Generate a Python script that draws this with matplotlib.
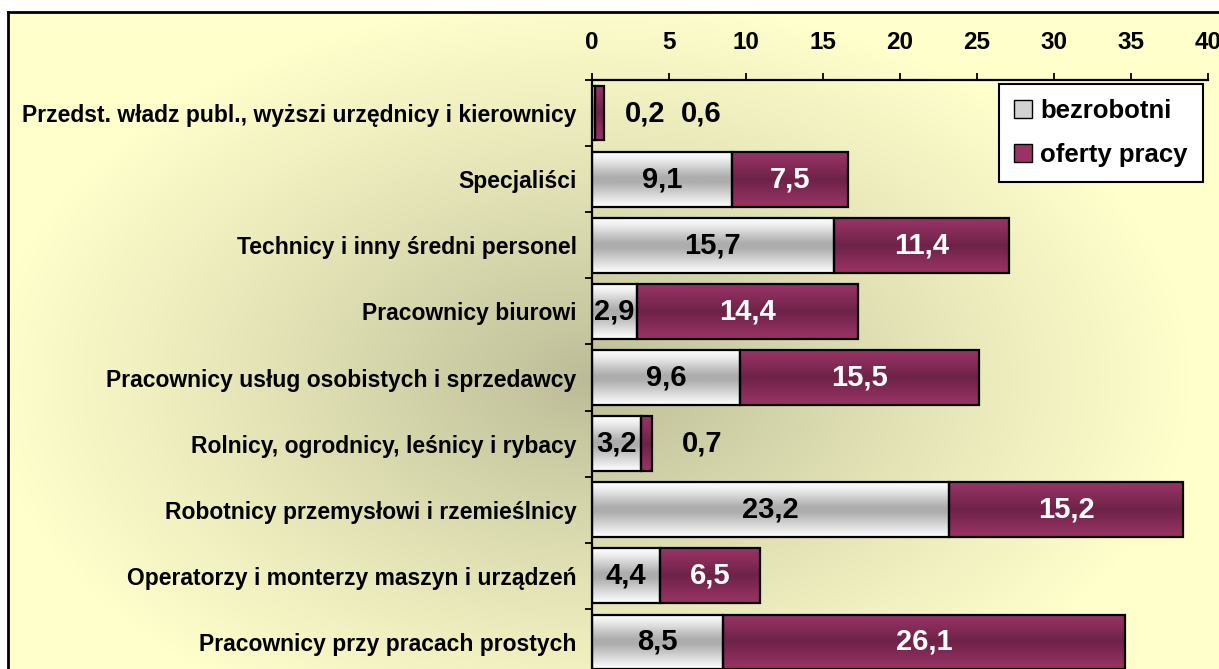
import numpy as np
from matplotlib import pyplot as plt
from matplotlib.colors import LinearSegmentedColormap, to_rgb
from matplotlib.patches import Patch, Rectangle

plt.rcParams["font.family"] = ["Liberation Sans", "DejaVu Sans"]
plt.rcParams["font.weight"] = "bold"

categories = [
    "Przedst. władz publ., wyższi urzędnicy i kierownicy",
    "Specjaliści",
    "Technicy i inny średni personel",
    "Pracownicy biurowi",
    "Pracownicy usług osobistych i sprzedawcy",
    "Rolnicy, ogrodnicy, leśnicy i rybacy",
    "Robotnicy przemysłowi i rzemieślnicy",
    "Operatorzy i monterzy maszyn i urządzeń",
    "Pracownicy przy pracach prostych",
]
bezrobotni = [0.2, 9.1, 15.7, 2.9, 9.6, 3.2, 23.2, 4.4, 8.5]
oferty = [0.6, 7.5, 11.4, 14.4, 15.5, 0.7, 15.2, 6.5, 26.1]
series_names = ["bezrobotni", "oferty pracy"]
xticks = list(range(0, 41, 5))

W, H = 1219, 669
fig = plt.figure(figsize=(W / 100, H / 100), dpi=100)

# background: white margin, black frame, khaki radial gradient inside
bg = fig.add_axes([0, 0, 1, 1])
bg.set_axis_off()
yy, xx = np.mgrid[0:H, 0:W]
d = np.sqrt(((xx - 590) / 600) ** 2 + ((yy - 380) / 380) ** 2)
t = np.clip(d, 0, 1) ** 0.85
c0 = np.array(to_rgb("#BABA96"))
c1 = np.array(to_rgb("#FFFFCC"))
img = c0 * (1 - t[..., None]) + c1 * t[..., None]
img[:12, :] = 1.0
img[:, :8] = 1.0
bg.imshow(img, extent=(0, W, H, 0), aspect="auto")
bg.plot([8, 8], [H, 12], color="black", lw=2)
bg.plot([8, W], [12, 12], color="black", lw=2)
bg.set_xlim(0, W)
bg.set_ylim(H, 0)

ax = fig.add_axes([592 / W, 1 - 675 / H, 616 / W, 595 / H])
ax.patch.set_alpha(0)

grey_cmap = LinearSegmentedColormap.from_list(
    "g", [(0, "#FCFCFC"), (0.1, "#F2F2F2"), (0.45, "#ADADAD"), (0.55, "#ADADAD"), (1, "#FFFFFF")])
purple_cmap = LinearSegmentedColormap.from_list(
    "p", [(0, "#9A3466"), (0.5, "#6E2248"), (1, "#9A3466")])
grad = np.linspace(0, 1, 64).reshape(-1, 1)
h = 0.83


def grad_bar(left, y, width, cmap):
    ax.imshow(grad, cmap=cmap, aspect="auto", interpolation="bilinear",
              extent=(left, left + width, y + h / 2, y - h / 2), zorder=2)
    ax.add_patch(Rectangle((left, y - h / 2), width, h, fill=False,
                           edgecolor="black", lw=1.6, zorder=3))


for i in range(len(categories)):
    b, o = bezrobotni[i], oferty[i]
    grad_bar(0, i, b, grey_cmap)
    grad_bar(b, i, o, purple_cmap)
    last_px = None
    for val, left, col in [(b, 0, "black"), (o, b, "white")]:
        txt = f"{val:.1f}".replace(".", ",")
        if val >= 2:
            ax.text(left + val / 2, i, txt, ha="center", va="center",
                    fontsize=21, fontweight="bold", color=col, zorder=4)
        else:
            end_px = (left + val) * 616 / 40
            pos = end_px + 50
            if last_px is not None:
                pos = max(pos, last_px + 56)
            last_px = pos
            ax.text(pos * 40 / 616, i, txt, ha="center", va="center",
                    fontsize=21, fontweight="bold", color="black", zorder=4)

ax.set_xlim(0, 40)
ax.set_ylim(len(categories) - 0.5, -0.5)
ax.xaxis.tick_top()
ax.set_xticks(xticks)
ax.set_xticklabels([str(v) for v in xticks], fontsize=17.5, fontweight="bold")
ax.tick_params(axis="x", direction="out", length=5, width=1.3, pad=14)
ax.set_yticks(range(len(categories)))
ax.set_yticklabels(categories, fontsize=16.5, fontweight="bold")
ax.set_yticks(np.arange(-0.5, len(categories), 1), minor=True)
ax.tick_params(axis="y", which="major", length=0, pad=11)
ax.tick_params(axis="y", which="minor", direction="out", length=5, width=1.3)
for s in ["right", "bottom"]:
    ax.spines[s].set_visible(False)
for s in ["left", "top"]:
    ax.spines[s].set_linewidth(1.6)

handles = [Patch(facecolor="#D2D2D2", edgecolor="black"),
           Patch(facecolor="#993366", edgecolor="black")]
leg = fig.legend(handles, series_names, loc="upper left",
                 bbox_to_anchor=(999 / W, 1 - 84 / H), borderaxespad=0,
                 fancybox=False, edgecolor="black", framealpha=1,
                 handlelength=0.7, handleheight=0.7, handletextpad=0.3,
                 labelspacing=0.75, borderpad=0.6,
                 prop={"size": 18.5, "weight": "bold"})
leg.get_frame().set_linewidth(1.5)

fig.savefig("out.png", dpi=100)
